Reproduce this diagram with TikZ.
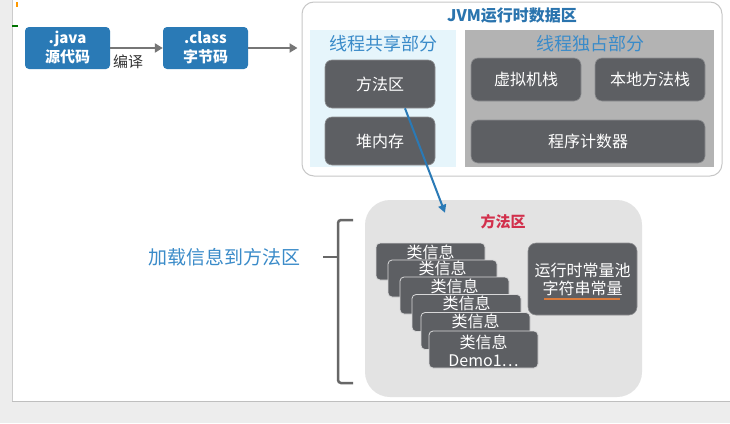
\documentclass[tikz,border=0pt]{standalone}
\usepackage{fontspec}
\setmainfont{Noto Sans CJK SC}
\usetikzlibrary{arrows.meta}
\definecolor{boxblue}{HTML}{2A7AB6}
\definecolor{titleblue}{HTML}{3A8BC9}
\definecolor{jvmblue}{HTML}{2A74AE}
\definecolor{darkbox}{HTML}{5D5F63}
\definecolor{sharedfill}{HTML}{E6F5FB}
\definecolor{exclfill}{HTML}{B3B3B3}
\definecolor{mafill}{HTML}{E3E3E3}
\definecolor{mared}{HTML}{D2304C}
\definecolor{arrgray}{HTML}{767676}
\definecolor{brgray}{HTML}{676767}
\definecolor{lineorange}{HTML}{D97B3C}
\definecolor{chrome}{HTML}{EDEDED}
\begin{document}
\begin{tikzpicture}[x=1pt,y=-1pt,
  srcbox/.style={fill=boxblue, rounded corners=4pt, text=white, align=center,
    minimum width=85pt, minimum height=42pt, inner sep=0pt,
    font=\fontsize{15pt}{19pt}\selectfont\bfseries},
  graybox/.style={fill=darkbox, draw=darkbox!70!white, line width=0.6pt, rounded corners=7pt,
    text=white, inner sep=0pt, font=\fontsize{16pt}{18pt}\selectfont},
  infobox/.style={fill=darkbox, draw=white!75!darkbox, line width=0.8pt, rounded corners=4pt,
    minimum width=109pt, minimum height=37pt, inner sep=0pt},
  infotext/.style={text=white, inner sep=0pt, align=center, font=\fontsize{16pt}{18pt}\selectfont},
  flowarrow/.style={draw=arrgray, line width=2.5pt, -{Triangle[length=8pt,width=9pt]}},
  parttitle/.style={text=titleblue, inner sep=0pt, font=\fontsize{18pt}{20pt}\selectfont}
]
\useasboundingbox (0,0) rectangle (730,423);
\fill[white] (0,0) rectangle (730,423);
% screen chrome
\fill[chrome] (0,0) rectangle (12,423);
\draw[black!20, line width=0.6pt] (12,0) -- (12,401);
\fill[chrome] (0,401) rectangle (730,423);
\draw[black!25, line width=0.8pt] (12,401) -- (730,401);
\fill[orange!80!yellow] (16,2) rectangle (18,7);
\fill[green!45!black] (12,25) rectangle (18,27);

% source and class boxes
\node[srcbox] (java) at (67.5,48) {.java\\源代码};
\node[srcbox] (cls) at (205.5,48) {.class\\字节码};
\draw[flowarrow] (java.east) -- (cls.west);
\node[inner sep=0pt, text=black!80, font=\fontsize{15pt}{18pt}\selectfont] (compile) at (128,62) {编译};

% JVM runtime data area
\node[draw=black!22, line width=1pt, fill=white, rounded corners=12pt,
  minimum width=420pt, minimum height=174pt, inner sep=0pt] (jvm) at (512,89) {};
\draw[flowarrow, shorten >=4pt] (cls.east) -- (cls.east -| jvm.west);
\node[text=jvmblue, inner sep=0pt, font=\fontsize{16pt}{18pt}\selectfont\bfseries] (jvmt) at (512,16) {JVM运行时数据区};

\node[fill=sharedfill, minimum width=146pt, minimum height=137pt, inner sep=0pt] (shared) at (383,98.5) {};
\node[parttitle] (sharedt) at (383,44) {线程共享部分};
\node[graybox, minimum width=110pt, minimum height=48pt] (ff) at (380,84) {方法区};
\node[graybox, minimum width=110pt, minimum height=48pt] (heap) at (380,141) {堆内存};

\node[fill=exclfill, minimum width=249pt, minimum height=137pt, inner sep=0pt] (excl) at (589.5,98.5) {};
\node[parttitle] (exclt) at (590,44) {线程独占部分};
\node[graybox, minimum width=110pt, minimum height=43pt] (vms) at (526,79.5) {虚拟机栈};
\node[graybox, minimum width=110pt, minimum height=43pt] (nms) at (650,79.5) {本地方法栈};
\node[graybox, minimum width=234pt, minimum height=43pt] (pc) at (588,141.5) {程序计数器};

% method area detail
\node[fill=mafill, rounded corners=25pt, minimum width=277pt, minimum height=197pt, inner sep=0pt] (ma) at (503.5,298.5) {};
\node[text=mared, inner sep=0pt, font=\fontsize{15pt}{18pt}\selectfont\bfseries] (mat) at (503,222) {方法区};
\draw[draw=boxblue, line width=2pt, -{Triangle[length=8pt,width=8pt]}]
  ([xshift=25pt]ff.south) -- ([xshift=-58.5pt,yshift=-13pt]ma.north);

\node[infobox] (b1) at (430.5,261.5) {};
\node[infotext] (t1) at ([yshift=-9.5pt]b1.north) {类信息};
\node[infobox] (b2) at (442.5,278.5) {};
\node[infotext] (t2) at ([yshift=-9pt]b2.north) {类信息};
\node[infobox] (b3) at (454.5,295.5) {};
\node[infotext] (t3) at ([yshift=-10pt]b3.north) {类信息};
\node[infobox] (b4) at (466.5,313) {};
\node[infotext] (t4) at ([yshift=-9.5pt]b4.north) {类信息};
\node[infobox] (b5) at (475.5,331) {};
\node[infotext] (t5) at ([yshift=-9.5pt]b5.north) {类信息};
\node[infobox] (b6) at (483.5,349.5) {};
\node[infotext] (t6) at (483.5,351) {类信息\\Demo1⋯};

\node[graybox, rounded corners=8pt, minimum width=109pt, minimum height=72pt, align=center] (cp) at (582.5,279) {运行时常量池\\字符串常量};
\draw[lineorange, line width=2pt] (544,299) -- (620,299);

% bracket and label
\draw[brgray, line width=2.5pt, rounded corners=3pt] (353,220) -- (338,220) -- (338,383) -- (353,383);
\draw[brgray, line width=2.5pt] (323,257) -- (338,257);
\node[text=titleblue, inner sep=0pt, font=\fontsize{19pt}{21pt}\selectfont] (load) at (224,257) {加载信息到方法区};
\end{tikzpicture}
\end{document}
